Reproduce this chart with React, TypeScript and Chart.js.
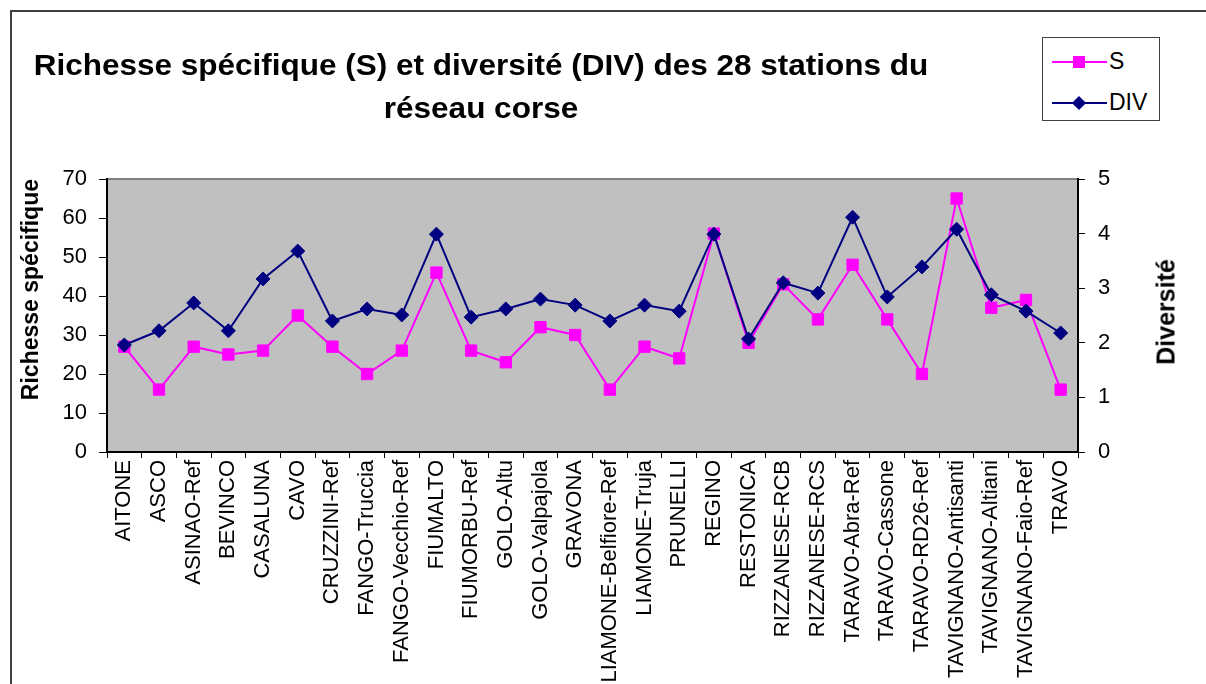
import React, { useEffect, useRef } from "react";
import { Chart, registerables } from "chart.js";

Chart.register(...registerables);

const stations: string[] = [
  "AITONE", "ASCO", "ASINAO-Ref", "BEVINCO", "CASALUNA", "CAVO", "CRUZZINI-Ref",
  "FANGO-Truccia", "FANGO-Vecchio-Ref", "FIUMALTO", "FIUMORBU-Ref", "GOLO-Altu",
  "GOLO-Valpajola", "GRAVONA", "LIAMONE-Belfiore-Ref", "LIAMONE-Truja", "PRUNELLI",
  "REGINO", "RESTONICA", "RIZZANESE-RCB", "RIZZANESE-RCS", "TARAVO-Abra-Ref",
  "TARAVO-Cassone", "TARAVO-RD26-Ref", "TAVIGNANO-Antisanti", "TAVIGNANO-Altiani",
  "TAVIGNANO-Faio-Ref", "TRAVO",
];

const richesseS: number[] = [
  27, 16, 27, 25, 26, 35, 27, 20, 26, 46, 26, 23, 32, 30, 16, 27, 24, 56, 28, 43,
  34, 48, 34, 20, 65, 37, 39, 16,
];

const diversiteDIV: number[] = [
  1.96, 2.22, 2.73, 2.22, 3.17, 3.68, 2.4, 2.62, 2.51, 3.99, 2.47, 2.62, 2.8, 2.69,
  2.4, 2.69, 2.58, 3.99, 2.07, 3.1, 2.91, 4.3, 2.84, 3.39, 4.08, 2.88, 2.58, 2.18,
];

const titleLines: string[] = [
  "Richesse spécifique (S) et diversité (DIV) des 28 stations du",
  "réseau corse",
];
const leftAxisTitle = "Richesse spécifique";
const rightAxisTitle = "Diversité";
const seriesNames: string[] = ["S", "DIV"];

const MAGENTA = "#FF00FF";
const NAVY = "#000080";
const FONT = "'Liberation Sans', Arial, sans-serif";

const plotBg = {
  id: "plotBg",
  beforeDraw(chart: any) {
    const { ctx, chartArea } = chart;
    ctx.save();
    ctx.fillStyle = "#C0C0C0";
    ctx.fillRect(chartArea.left, chartArea.top, chartArea.right - chartArea.left, chartArea.bottom - chartArea.top);
    ctx.strokeStyle = "#808080";
    ctx.lineWidth = 2;
    ctx.beginPath();
    ctx.moveTo(chartArea.left, chartArea.top);
    ctx.lineTo(chartArea.right, chartArea.top);
    ctx.stroke();
    ctx.restore();
  },
};

export default function App() {
  const ref = useRef<HTMLCanvasElement | null>(null);

  useEffect(() => {
    if (!ref.current) return;
    Chart.defaults.font.family = FONT;
    Chart.defaults.color = "#000";
    const chart = new Chart(ref.current, {
      type: "line",
      data: {
        labels: stations,
        datasets: [
          {
            label: seriesNames[0],
            data: richesseS,
            yAxisID: "y",
            borderColor: MAGENTA,
            backgroundColor: MAGENTA,
            borderWidth: 2,
            pointStyle: "rect",
            pointRadius: 8,
            pointBorderWidth: 1,
            pointBackgroundColor: MAGENTA,
            pointBorderColor: MAGENTA,
            tension: 0,
            order: 2,
          },
          {
            label: seriesNames[1],
            data: diversiteDIV,
            yAxisID: "y1",
            borderColor: NAVY,
            backgroundColor: NAVY,
            borderWidth: 2,
            pointStyle: "rectRot",
            pointRadius: 7,
            pointBorderWidth: 1,
            pointBackgroundColor: NAVY,
            pointBorderColor: NAVY,
            tension: 0,
            order: 1,
          },
        ],
      },
      options: {
        responsive: false,
        animation: false,
        layout: { padding: { top: 179, left: 0, right: 0, bottom: 0 } },
        plugins: {
          legend: { display: false },
          title: { display: false },
          tooltip: { enabled: false },
        },
        scales: {
          x: {
            type: "category",
            offset: true,
            afterFit: (s: any) => { s.height = 232; },
            grid: {
              offset: true,
              drawOnChartArea: false,
              drawTicks: true,
              tickLength: 6,
              color: "#000",
              lineWidth: 1,
            },
            border: { display: true, color: "#000", width: 2 },
            ticks: {
              autoSkip: false,
              maxRotation: 90,
              minRotation: 90,
              padding: 2,
              color: "#000",
              font: { size: 22, family: FONT },
            },
          },
          y: {
            position: "left",
            min: 0,
            max: 70,
            afterFit: (s: any) => { s.width = 107; },
            grid: { drawOnChartArea: false, drawTicks: true, tickLength: 8, color: "#000" },
            border: { display: true, color: "#000", width: 2 },
            ticks: { stepSize: 10, padding: 12, color: "#000", font: { size: 22, family: FONT } },
            title: {
              display: true,
              text: leftAxisTitle,
              align: "end",
              color: "#000",
              font: { size: 23, weight: "bold", family: FONT },
              padding: { top: 18, bottom: 0 },
            },
          },
          y1: {
            position: "right",
            min: 0,
            max: 5,
            afterFit: (s: any) => { s.width = 128; },
            grid: { drawOnChartArea: false, drawTicks: true, tickLength: 7, color: "#000" },
            border: { display: true, color: "#000", width: 2 },
            ticks: { stepSize: 1, padding: 13, color: "#000", font: { size: 22, family: FONT } },
            title: { display: false, text: rightAxisTitle },
          },
        },
      },
      plugins: [plotBg],
    });
    return () => chart.destroy();
  }, []);

  return (
    <div
      style={{
        position: "fixed",
        left: 0,
        top: 0,
        width: 1206,
        height: 684,
        overflow: "hidden",
        background: "#fff",
        fontFamily: FONT,
      }}
    >
      <div
        style={{
          position: "absolute",
          left: 10,
          top: 10,
          width: 1400,
          height: 900,
          border: "2px solid #404040",
        }}
      />
      <canvas
        ref={ref}
        width={1206}
        height={684}
        style={{ position: "absolute", left: 0, top: 0, width: 1206, height: 684 }}
      />
      <div
        style={{
          position: "absolute",
          left: 0,
          top: 43,
          width: 962,
          textAlign: "center",
          fontSize: 30,
          fontWeight: "bold",
          lineHeight: "43px",
          color: "#000",
          transform: "scaleX(1.05)",
          transformOrigin: "481px 0",
          whiteSpace: "nowrap",
        }}
      >
        <div>{titleLines[0]}</div>
        <div>{titleLines[1]}</div>
      </div>
      <div
        style={{
          position: "absolute",
          left: 1166,
          top: 312,
          transform: "translate(-50%, -50%) rotate(-90deg)",
          fontSize: 25,
          fontWeight: "bold",
          lineHeight: "25px",
          whiteSpace: "nowrap",
          color: "#000",
        }}
      >
        {rightAxisTitle}
      </div>
      <div
        style={{
          position: "absolute",
          left: 1042,
          top: 37,
          width: 116,
          height: 82,
          border: "1px solid #404040",
          background: "#fff",
          fontSize: 23,
          color: "#000",
        }}
      >
        <div style={{ position: "absolute", left: 9, top: 23, width: 55, height: 2, background: MAGENTA }} />
        <div style={{ position: "absolute", left: 30, top: 18, width: 12, height: 12, background: MAGENTA }} />
        <div style={{ position: "absolute", left: 66, top: 11, lineHeight: "25px" }}>{seriesNames[0]}</div>
        <div style={{ position: "absolute", left: 9, top: 64, width: 55, height: 2, background: NAVY }} />
        <div
          style={{
            position: "absolute",
            left: 31,
            top: 60,
            width: 10,
            height: 10,
            background: NAVY,
            transform: "rotate(45deg)",
          }}
        />
        <div style={{ position: "absolute", left: 66, top: 52, lineHeight: "25px" }}>{seriesNames[1]}</div>
      </div>
    </div>
  );
}
